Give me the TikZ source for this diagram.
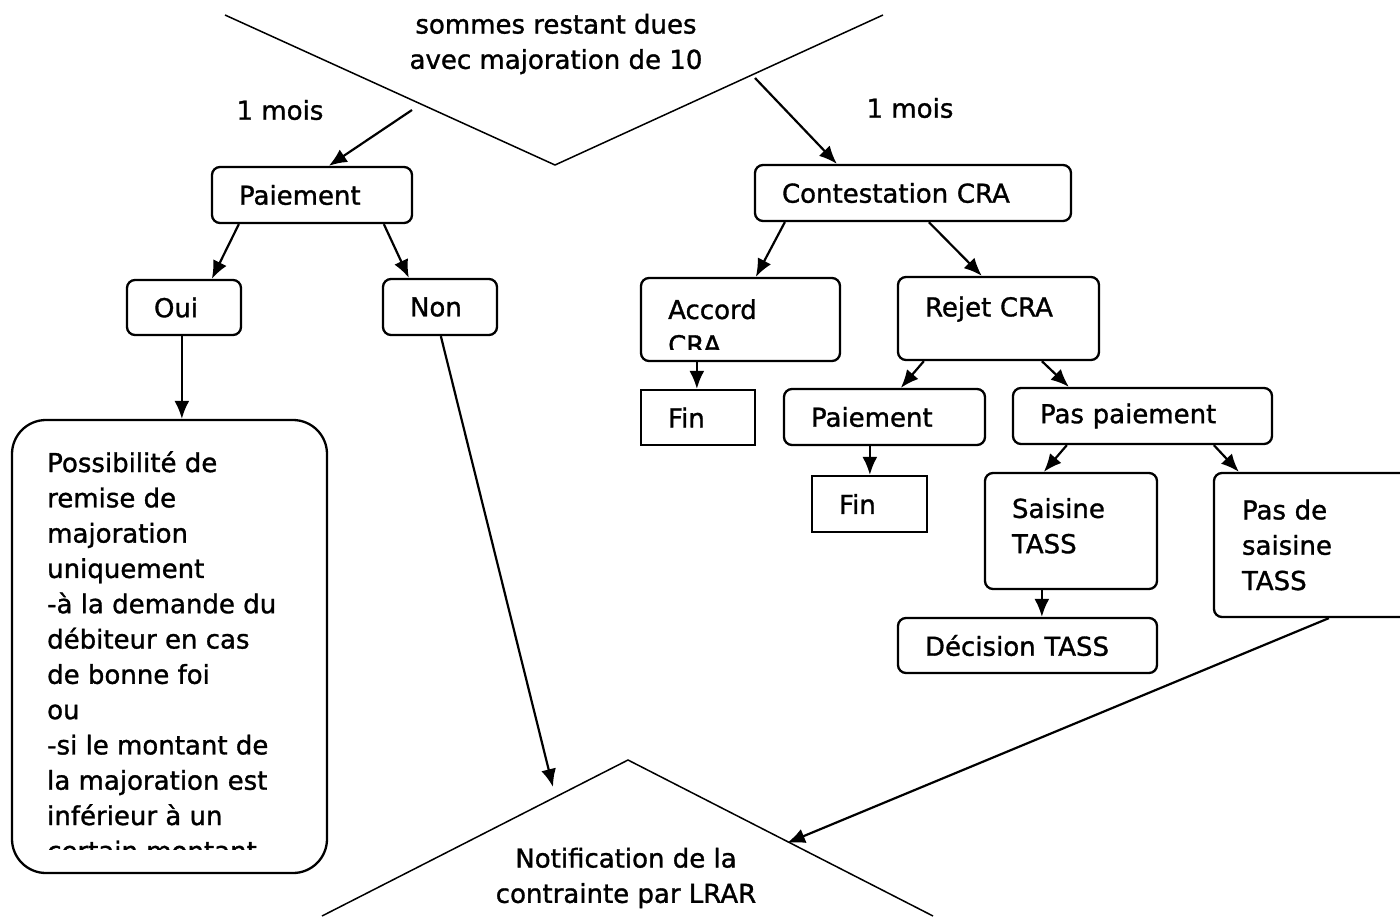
\documentclass[tikz,border=0pt]{standalone}
\usepackage{fontspec}
\setmainfont{DejaVu Sans}[FakeBold=1.2]
\usetikzlibrary{arrows.meta,positioning,calc}

\begin{document}
\begin{tikzpicture}[x=1pt, y=-1pt, >={Latex[length=18pt,width=15pt]},
    every node/.style={font=\fontsize{26}{35.3}\selectfont},
    box/.style={draw, line width=2.3pt, rounded corners=8pt, inner sep=0pt, align=left},
    finbox/.style={box, sharp corners},
    lien/.style={->, line width=2.2pt},
    bord/.style={line width=1.5pt}]
            \useasboundingbox (0,0) rectangle (1400,916);
            \clip (0,0) rectangle (1400,916);

            % Top shape
            \coordinate (vl) at (225,15);
            \coordinate (vb) at (555,165);
            \coordinate (vr) at (883,15);
            \draw[bord] (vl) -- (vb) -- (vr);
            \node[align=center] (haut) at (556,44) {sommes restant dues\\avec majoration de 10};
            \node (mois1) at (280,110) {1 mois};
            \node (mois2) at (910,108) {1 mois};
            \coordinate (d1) at (412,110);
            \coordinate (d2) at (755,78);

            % Bottom shape
            \coordinate (bl) at (322,916);
            \coordinate (bt) at (628,760);
            \coordinate (br) at (933,916);
            \draw[bord] (bl) -- (bt) -- (br);
            \node[align=center] (bas) at (626,878) {Notification de la\\contrainte par LRAR};
            \coordinate (f1) at (553,787);
            \coordinate (f2) at (787,843);

            % Left branch
            \node[box, minimum width=200, minimum height=56, text width=146] (pai) at (312,195) {Paiement};
            \node[box, minimum width=114, minimum height=55, text width=60] (oui) at (184,307.5) {Oui};
            \node[box, minimum width=114, minimum height=56, text width=60] (non) at (440,307) {Non};
            \node[box, rounded corners=34pt, minimum width=315, minimum height=453] (poss) at (169.5,646.5) {};
            \begin{scope}
                \clip (poss.north west) rectangle ([yshift=25pt]poss.south east);
                \node[anchor=north west, align=left, inner sep=0pt] (posst) at (47,451)
                    {Possibilité de\\remise de\\majoration\\uniquement\\-à la demande du\\débiteur en cas\\de bonne foi\\ou\\-si le montant de\\la majoration est\\inférieur à un\\certain montant};
            \end{scope}

            % Right branch
            \node[box, minimum width=316, minimum height=56, text width=262] (cont) at (913,193) {Contestation CRA};
            \node[box, minimum width=199, minimum height=83] (acc) at (740.5,319.5) {};
            \begin{scope}
                \clip (acc.north west) rectangle ([yshift=13pt]acc.south east);
                \node[anchor=north west, align=left, inner sep=0pt] (acct) at (668,299) {Accord\\CRA};
            \end{scope}
            \node[box, minimum width=201, minimum height=83, text width=147, text depth=24pt] (rej) at (998.5,318.5) {Rejet CRA};
            \node[finbox, minimum width=114, minimum height=55, text width=60] (fin1) at (698,417.5) {Fin};
            \node[box, minimum width=201, minimum height=56, text width=147] (pai2) at (884.5,417) {Paiement};
            \node[box, minimum width=259, minimum height=56, text width=205] (pas) at (1142.5,416) {Pas paiement};
            \node[finbox, minimum width=115, minimum height=56, text width=61] (fin2) at (869.5,504) {Fin};
            \node[box, minimum width=172, minimum height=116, text width=118, text depth=46pt] (sai) at (1071,531) {Saisine\\TASS};
            \node[box, minimum width=206, minimum height=144, text width=150] (psai) at (1317,545) {Pas de\\saisine\\TASS};
            \node[box, minimum width=259, minimum height=55, text width=205] (dec) at (1027.5,645.5) {Décision TASS};

            % Arrows
            \draw[lien] (d1) -- ([xshift=118]pai.north west);
            \draw[lien] (d2) -- ([xshift=83]cont.north west);
            \draw[lien] ([xshift=28]pai.south west) -- ([xshift=86]oui.north west);
            \draw[lien] ([xshift=173]pai.south west) -- ([xshift=27]non.north west);
            \draw[lien] ([xshift=56]oui.south west) -- ([xshift=171]poss.north west);
            \draw[lien] ([xshift=59]non.south west) -- (f1);
            \draw[lien] ([xshift=31]cont.south west) -- ([xshift=116]acc.north west);
            \draw[lien] ([xshift=175]cont.south west) -- ([xshift=85]rej.north west);
            \draw[lien] ([xshift=57]acc.south west) -- ([xshift=57]fin1.north west);
            \draw[lien] ([xshift=27]rej.south west) -- ([xshift=118]pai2.north west);
            \draw[lien] ([xshift=145]rej.south west) -- ([xshift=57]pas.north west);
            \draw[lien] ([xshift=87]pai2.south west) -- ([xshift=59]fin2.north west);
            \draw[lien] ([xshift=55]pas.south west) -- ([xshift=60]sai.north west);
            \draw[lien] ([xshift=202]pas.south west) -- ([xshift=26]psai.north west);
            \draw[lien] ([xshift=58]sai.south west) -- ([xshift=145]dec.north west);
            \draw[lien] ([xshift=116]psai.south west) -- (f2);
        \end{tikzpicture}
\end{document}
